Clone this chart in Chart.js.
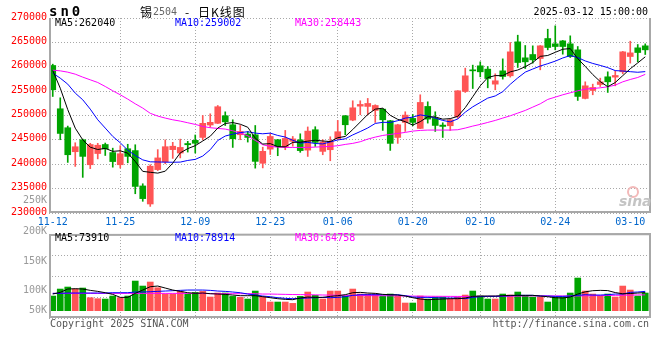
<!DOCTYPE html>
<html>
<head>
<meta charset="utf-8">
<script src="https://cdn.jsdelivr.net/npm/chart.js@4.4.1/dist/chart.umd.min.js"></script>
<style>
  body { margin: 0; background: #fff; }
  #wrap { position: relative; width: 660px; height: 360px; overflow: hidden; font-family: "DejaVu Sans Mono", monospace; font-size: 10px; }
  canvas { position: absolute; left: 0; }
  #priceChart { top: 0; }
  #volChart { top: 190px; }
  .t { position: absolute; line-height: 12px; white-space: nowrap; }
</style>
</head>
<body>
<div id="wrap">
  <canvas id="priceChart" width="660" height="232"></canvas>
  <canvas id="volChart" width="660" height="150"></canvas>

  <div class="t" style="left:49px;top:4px;font-size:14px;line-height:14px;font-weight:bold;letter-spacing:3px">sn0</div>
  <div class="t" style="left:140px;top:6px;font-family:'Noto Sans CJK SC';font-size:12px">锡</div>
  <div class="t" style="left:153px;top:6px;color:#666">2504</div>
  <div class="t" style="left:185px;top:6px;font-family:'Noto Sans CJK SC';font-size:12px">-</div>
  <div class="t" style="left:198px;top:6px;font-family:'Noto Sans CJK SC';font-size:12px;letter-spacing:1px">日K线图</div>
  <div class="t" style="right:12px;top:6px">2025-03-12 15:00:00</div>

  <div class="t" style="left:55px;top:17px;color:#000">MA5:262040</div>
  <div class="t" style="left:175px;top:17px;color:#0000ff">MA10:259002</div>
  <div class="t" style="left:295px;top:17px;color:#ff00ff">MA30:258443</div>

  <div class="t" style="left:55px;top:232px;color:#000">MA5:73910</div>
  <div class="t" style="left:175px;top:232px;color:#0000ff">MA10:78914</div>
  <div class="t" style="left:295px;top:232px;color:#ff00ff">MA30:64758</div>

  <div style="position:absolute;left:627px;top:186px;width:8px;height:8px;border:2px solid #f3b9b9;border-radius:50%"></div>
  <div class="t" style="left:619px;top:195px;font-family:'DejaVu Sans';font-style:italic;font-weight:bold;font-size:14px;color:#c4c4c4">sina</div>

  <div class="t" style="left:50px;top:318px;color:#555">Copyright 2025 SINA.COM</div>
  <div class="t" style="right:11px;top:318px;color:#555">http://finance.sina.com.cn</div>
</div>

<script>
const dates = [
  '2024-11-12','2024-11-13','2024-11-14','2024-11-15','2024-11-18','2024-11-19','2024-11-20','2024-11-21','2024-11-22','2024-11-25',
  '2024-11-26','2024-11-27','2024-11-28','2024-11-29','2024-12-02','2024-12-03','2024-12-04','2024-12-05','2024-12-06','2024-12-09',
  '2024-12-10','2024-12-11','2024-12-12','2024-12-13','2024-12-16','2024-12-17','2024-12-18','2024-12-19','2024-12-20','2024-12-23',
  '2024-12-24','2024-12-25','2024-12-26','2024-12-27','2024-12-30','2024-12-31','2025-01-02','2025-01-03','2025-01-06','2025-01-07',
  '2025-01-08','2025-01-09','2025-01-10','2025-01-13','2025-01-14','2025-01-15','2025-01-16','2025-01-17','2025-01-20','2025-01-21',
  '2025-01-22','2025-01-23','2025-01-24','2025-01-27','2025-02-05','2025-02-06','2025-02-07','2025-02-10','2025-02-11','2025-02-12',
  '2025-02-13','2025-02-14','2025-02-17','2025-02-18','2025-02-19','2025-02-20','2025-02-21','2025-02-24','2025-02-25','2025-02-26',
  '2025-02-27','2025-02-28','2025-03-03','2025-03-04','2025-03-05','2025-03-06','2025-03-07','2025-03-10','2025-03-11','2025-03-12'];

// dates that get a label + vertical grid line
const tickDates = ['2024-11-12','2024-11-25','2024-12-09','2024-12-23','2025-01-06','2025-01-20','2025-02-10','2025-02-24','2025-03-10'];

const open = [260260, 251380, 247490, 242570, 245030, 239900, 242200, 244050, 242400, 239900,
  243180, 242800, 235550, 231850, 238900, 240500, 243000, 242300, 244250, 244900,
  245500, 248050, 248400, 249950, 248100, 246050, 246190, 246050, 240200, 243100,
  245030, 243590, 244700, 245000, 242900, 247080, 242640, 242980, 245230, 249940,
  249060, 251920, 251860, 251040, 251310, 248920, 245500, 248580, 249400, 247350,
  251860, 249400, 248030, 247900, 249740, 254930, 259370, 260190, 259510, 256430,
  259160, 258140, 265110, 261830, 262510, 261690, 265790, 264700, 265310, 264700,
  263470, 253500, 255130, 256360, 257940, 257870, 258960, 262100, 263880, 264290];
const high = [260530, 253630, 247830, 244410, 245160, 244300, 244300, 244350, 243300, 243800,
  244100, 244000, 236000, 239900, 243000, 245000, 244500, 245150, 244700, 246000,
  250000, 250350, 252050, 250750, 249120, 247960, 246730, 247950, 243500, 246300,
  245100, 246940, 245700, 246250, 247650, 247700, 245030, 245640, 248990, 250000,
  253020, 253020, 253500, 252200, 251400, 249000, 248200, 250760, 250220, 254250,
  252810, 250760, 248510, 249260, 255100, 259710, 260330, 261010, 260050, 258550,
  261620, 264970, 266470, 264360, 264290, 264350, 267700, 268390, 265400, 266340,
  264150, 256910, 256430, 257660, 258960, 259160, 263150, 265240, 264560, 264700];
const low = [253900, 245030, 240380, 239560, 237310, 239100, 241100, 241800, 239400, 239220,
  240300, 233950, 232400, 231350, 238700, 240100, 241200, 241300, 242500, 242300,
  245000, 247600, 248350, 247950, 243450, 245030, 244550, 239200, 239250, 242000,
  241750, 242980, 243700, 242450, 241600, 243660, 241950, 240720, 245030, 246050,
  248920, 250150, 250150, 248580, 246940, 242840, 244280, 246730, 247900, 247300,
  248440, 246730, 245500, 246940, 249400, 254730, 255540, 257940, 255680, 255270,
  257460, 257870, 259850, 259640, 260740, 259370, 263470, 263470, 262580, 261900,
  253090, 253400, 254250, 255950, 254730, 256090, 258550, 260740, 261010, 262510];
const close = [255270, 246320, 241950, 243590, 241610, 244050, 243900, 243150, 240550, 242160,
  241610, 235450, 232950, 239600, 241300, 243600, 243700, 243450, 244000, 244300,
  248400, 248600, 251800, 248700, 245230, 246730, 245500, 240590, 242650, 245700,
  243590, 245300, 245200, 242800, 246800, 244480, 244550, 244690, 246670, 248100,
  251580, 252270, 252470, 252060, 249120, 244280, 248100, 250080, 248580, 252680,
  249260, 247960, 247760, 249120, 255070, 258140, 259160, 258960, 257590, 257120,
  258000, 263060, 260870, 261010, 261420, 264290, 263950, 264150, 264150, 262100,
  253910, 256090, 255750, 256910, 256910, 258210, 263060, 262850, 262920, 263470];

const ma5 = [259230, 255600, 251200, 247400, 245000, 243500, 243020, 243260, 242650, 242760,
  242270, 240580, 238540, 238350, 238180, 238580, 240230, 242330, 243210, 243810,
  244770, 245750, 247420, 248360, 248550, 248210, 247590, 245350, 244140, 244230,
  243610, 243570, 244490, 244520, 244740, 244920, 244770, 244660, 245440, 245700,
  247120, 248660, 250220, 251300, 251500, 250040, 249210, 248730, 248030, 248740,
  249740, 249710, 249250, 249360, 249830, 251610, 253850, 256090, 257780, 258190,
  258170, 258950, 259330, 260010, 260870, 262130, 262310, 262960, 263590, 263730,
  261650, 260080, 258400, 256950, 255910, 256770, 258170, 259590, 260790, 262040];
const ma10 = [258690, 257660, 256430, 254590, 253220, 251310, 249120, 247420, 245710, 244400,
  242890, 241800, 240900, 240500, 240470, 240430, 240410, 240440, 240780, 241000,
  241680, 242990, 244880, 245790, 246180, 246490, 246670, 246390, 246250, 246390,
  245910, 245580, 244920, 244330, 244490, 244260, 244170, 244580, 244980, 245220,
  246020, 246710, 247440, 248370, 248600, 248580, 248930, 249470, 249660, 250120,
  249890, 249460, 248990, 248690, 249290, 250680, 251780, 252670, 253570, 254010,
  254890, 256400, 257710, 258900, 259530, 260150, 260630, 261150, 261800, 262300,
  261890, 261190, 260680, 260270, 259820, 259210, 259120, 258990, 258870, 259002];
const ma30 = [259300, 259160, 258890, 258480, 257870, 257320, 256770, 255950, 255070, 254250,
  253360, 252400, 251520, 250450, 249880, 249470, 249120, 248850, 248510, 248170,
  247760, 247490, 247350, 247210, 246870, 246390, 245850, 244890, 244000, 243660,
  243520, 243450, 243450, 243450, 243450, 243520, 243590, 243660, 243800, 244070,
  244280, 244620, 245160, 245570, 245910, 246120, 246320, 246530, 246800, 246940,
  247010, 247010, 247010, 247010, 247080, 247420, 247830, 248170, 248580, 248990,
  249470, 249940, 250490, 251040, 251720, 252400, 253300, 253770, 254250, 254660,
  255070, 255410, 255540, 255680, 255890, 256230, 256910, 257390, 257800, 258443];

const volume = [59800, 88400, 96600, 88400, 92500, 53000, 49000, 47600, 59800, 53000,
  59800, 121000, 100600, 117000, 93800, 68000, 68000, 78900, 68000, 74800,
  78900, 55800, 72100, 72100, 58500, 54400, 47600, 80200, 57100, 35400,
  35400, 35400, 29900, 58500, 76200, 62600, 47600, 80200, 80200, 59800,
  88400, 68000, 68000, 68000, 59800, 68000, 59800, 31300, 31300, 59800,
  47600, 55800, 55800, 47600, 55800, 63900, 80200, 59800, 47600, 47600,
  68000, 63900, 76200, 59800, 55800, 55800, 35400, 55800, 55800, 72100,
  133300, 80200, 68000, 59800, 68000, 55800, 100600, 84300, 59800, 72100];
const vma5 = [68000, 74800, 88400, 89800, 88400, 83000, 78900, 73400, 66600, 54400,
  54400, 70700, 84300, 97900, 100600, 92500, 84300, 78900, 73400, 70700,
  72100, 69400, 68000, 66600, 63900, 61200, 61200, 61200, 57100, 53000,
  49000, 46200, 44900, 51700, 55800, 54400, 54400, 58500, 61200, 65300,
  73400, 74800, 72100, 70700, 66600, 65300, 63900, 59800, 53000, 47600,
  44900, 46200, 47600, 49000, 49000, 51700, 58500, 59800, 59800, 59800,
  61200, 62600, 62600, 62600, 62600, 59800, 57100, 53000, 51700, 55800,
  68000, 77000, 81600, 83000, 82000, 74000, 69000, 70000, 72100, 73910];
const vma10 = [70700, 70700, 72100, 72100, 72100, 72100, 72100, 72100, 73400, 73400,
  73400, 76200, 76200, 77500, 78900, 80200, 81600, 83000, 84300, 84300,
  84300, 83000, 80200, 78900, 76200, 73400, 68000, 63900, 59800, 57100,
  53000, 50300, 49000, 50300, 51700, 53000, 54400, 53000, 54400, 57100,
  62600, 65300, 65300, 65300, 65300, 65300, 65300, 61200, 55800, 54400,
  54400, 53000, 51700, 51700, 51700, 49000, 54400, 57100, 58500, 58500,
  59800, 61200, 62600, 62600, 62600, 59800, 59800, 58500, 58500, 59800,
  62600, 65300, 63900, 63900, 65300, 68000, 68000, 74800, 76200, 78914];
const vma30 = [70700, 70700, 70700, 70700, 70700, 70700, 70700, 70700, 70700, 70700,
  70700, 70700, 70700, 70700, 70700, 70700, 70700, 70700, 70700, 70700,
  70700, 69400, 69400, 69400, 69400, 69400, 69400, 69400, 68000, 68000,
  67300, 66600, 66000, 65600, 65300, 64600, 64000, 63500, 63000, 62600,
  62200, 61800, 61500, 61200, 61000, 60700, 60400, 60000, 59600, 59300,
  59000, 58800, 58600, 58400, 58300, 58300, 58250, 58400, 58600, 58800,
  59000, 59300, 59700, 60200, 60600, 60600, 60400, 60300, 60200, 60200,
  60250, 60700, 61200, 61700, 62200, 62700, 63200, 63700, 64200, 64758];

const volTicks = ['250K', '200K', '150K', '100K', '50K'];

const UP = '#ff5555', DOWN = '#00a400', GRID = '#a8a8a8', MONO = '"DejaVu Sans Mono", monospace';
const candleColors = close.map((c, i) => c >= open[i] ? UP : DOWN);
const tickIdx = tickDates.map(d => dates.indexOf(d));

// volume panel sits between y=234 and y=318 of the page, volume labels are placed by page y
const VOL_TOP = 234, VOL_BOTTOM = 318;
const volLabelY = [200, 231, 261, 290, 310];

// gray frame around the plot area
const frame = {
  id: 'frame',
  afterDraw(chart, args, opts) {
    const { ctx, chartArea: a } = chart;
    ctx.save();
    ctx.strokeStyle = GRID;
    ctx.lineWidth = 2;
    ctx.beginPath();
    ctx.moveTo(a.left + 1, a.top);
    ctx.lineTo(a.left + 1, a.bottom - 1);
    ctx.lineTo(a.right + 1, a.bottom - 1);
    ctx.lineTo(a.right + 1, a.top);
    if (opts.top) ctx.lineTo(a.left, a.top + 1);
    ctx.stroke();
    ctx.restore();
  }
};

function maLine(data, color, axis) {
  return { type: 'line', data: data, borderColor: color, borderWidth: 1, pointRadius: 0, tension: 0, yAxisID: axis, order: 0 };
}

function dateAxis(showLabels, height) {
  return {
    offset: true,
    grid: {
      offset: false,
      drawTicks: false,
      color: c => (c.index === 0 || c.index === tickIdx.length - 1) ? 'rgba(0,0,0,0)' : GRID
    },
    border: { display: false, dash: [1, 2] },
    ticks: {
      display: showLabels, autoSkip: false, maxRotation: 0, minRotation: 0, padding: 3,
      color: '#0066cc', font: { family: MONO, size: 10 },
      callback: v => dates[v].slice(5)
    },
    afterBuildTicks: s => { s.ticks = tickIdx.map(v => ({ value: v })); },
    afterFit: s => { s.height = height; }
  };
}

const common = {
  responsive: false,
  maintainAspectRatio: false,
  animation: false,
  devicePixelRatio: 1,
  events: []
};

new Chart(document.getElementById('priceChart'), {
  type: 'bar',
  data: {
    labels: dates,
    datasets: [
      maLine(ma5, '#000000', 'y'),
      maLine(ma10, '#0000ff', 'y'),
      maLine(ma30, '#ff00ff', 'y'),
      { data: open.map((o, i) => [o, close[i]]), backgroundColor: candleColors, barThickness: 6, minBarLength: 1, grouped: false, order: 1 },
      { data: low.map((l, i) => [l, high[i]]), backgroundColor: candleColors, barThickness: 1, grouped: false, order: 2 }
    ]
  },
  options: Object.assign({}, common, {
    layout: { padding: { top: 18, right: 11 } },
    plugins: { legend: { display: false }, tooltip: { enabled: false }, frame: { top: false } },
    scales: {
      x: dateAxis(true, 19),
      y: {
        min: 230000, max: 270000,
        ticks: { stepSize: 5000, color: '#ff0000', font: { family: MONO, size: 10 }, padding: 2, labelOffset: -1, callback: v => String(v) },
        grid: { color: GRID, drawTicks: false },
        border: { display: false, dash: [1, 2] },
        afterFit: s => { s.width = 49; }
      }
    }
  }),
  plugins: [frame]
});

new Chart(document.getElementById('volChart'), {
  type: 'bar',
  data: {
    labels: dates,
    datasets: [
      maLine(vma5, '#000000', 'yv'),
      maLine(vma10, '#0000ff', 'yv'),
      maLine(vma30, '#ff00ff', 'yv'),
      { data: volume, backgroundColor: candleColors, barThickness: 6, yAxisID: 'yv', order: 1 }
    ]
  },
  options: Object.assign({}, common, {
    layout: { padding: { top: 44, right: 11 } },
    plugins: { legend: { display: false }, tooltip: { enabled: false }, frame: { top: true } },
    scales: {
      x: dateAxis(false, 22),
      yv: { type: 'linear', axis: 'y', display: false, min: -29800, max: 313000 },
      yg: {
        type: 'linear', axis: 'y', position: 'left', min: 0, max: 4,
        ticks: { display: false, stepSize: 1 },
        grid: { color: GRID, drawTicks: false },
        border: { display: false, dash: [1, 2] },
        afterFit: s => { s.width = 0; }
      },
      yl: {
        type: 'linear', axis: 'y', position: 'left', min: 0, max: 1,
        grid: { display: false, drawTicks: false },
        border: { display: false },
        ticks: { autoSkip: false, color: '#999999', font: { family: MONO, size: 10 }, padding: 2, callback: (v, i) => volTicks[i] },
        afterBuildTicks: s => { s.ticks = volLabelY.map(y => ({ value: (VOL_BOTTOM - y) / (VOL_BOTTOM - VOL_TOP) })); },
        afterFit: s => { s.width = 49; }
      }
    }
  }),
  plugins: [frame]
});
</script>
</body>
</html>
